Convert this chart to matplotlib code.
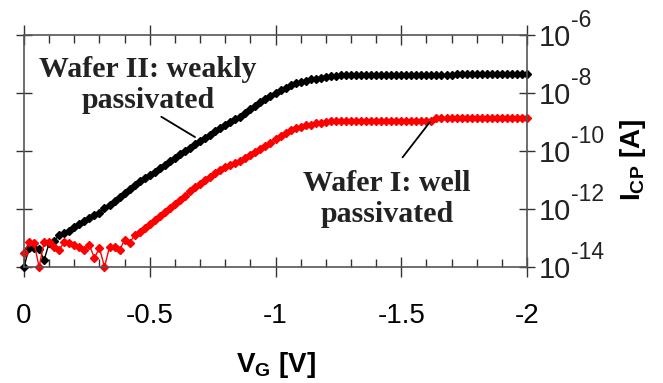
import matplotlib
matplotlib.use("Agg")
import matplotlib.pyplot as plt
import matplotlib.transforms as mtransforms
import numpy as np
from matplotlib.ticker import MultipleLocator, NullLocator

plt.rcParams['font.family'] = 'Liberation Sans'
plt.rcParams['mathtext.fontset'] = 'custom'
plt.rcParams['mathtext.rm'] = 'Liberation Sans'
plt.rcParams['mathtext.it'] = 'Liberation Sans'
plt.rcParams['mathtext.bf'] = 'Liberation Sans:bold'
plt.rcParams['axes.unicode_minus'] = False

# gate voltage sweep [V]
vg = [0.00, -0.02, -0.04, -0.06, -0.08, -0.10, -0.12, -0.14, -0.16, -0.18,
      -0.20, -0.22, -0.24, -0.26, -0.28, -0.30, -0.32, -0.34, -0.36, -0.38,
      -0.40, -0.42, -0.44, -0.46, -0.48, -0.50, -0.52, -0.54, -0.56, -0.58,
      -0.60, -0.62, -0.64, -0.66, -0.68, -0.70, -0.72, -0.74, -0.76, -0.78,
      -0.80, -0.82, -0.84, -0.86, -0.88, -0.90, -0.92, -0.94, -0.96, -0.98,
      -1.00, -1.02, -1.04, -1.06, -1.08, -1.10, -1.12, -1.14, -1.16, -1.18,
      -1.20, -1.22, -1.24, -1.26, -1.28, -1.30, -1.32, -1.34, -1.36, -1.38,
      -1.40, -1.42, -1.44, -1.46, -1.48, -1.50, -1.52, -1.54, -1.56, -1.58,
      -1.60, -1.62, -1.64, -1.66, -1.68, -1.70, -1.72, -1.74, -1.76, -1.78,
      -1.80, -1.82, -1.84, -1.86, -1.88, -1.90, -1.92, -1.94, -1.96, -1.98,
      -2.00]

# log10(Icp [A]) wafer II (weakly passivated)
wafer2_log = [-14.00, -13.35, -13.35, -13.38, -13.76, -13.17, -13.10, -12.90, -12.83, -12.76,
              -12.62, -12.52, -12.41, -12.31, -12.21, -12.14, -11.97, -11.86, -11.72, -11.59,
              -11.45, -11.31, -11.17, -11.03, -10.93, -10.83, -10.72, -10.59, -10.48, -10.35,
              -10.24, -10.10, -10.00, -9.90, -9.76, -9.66, -9.55, -9.45, -9.31, -9.21,
              -9.10, -9.00, -8.90, -8.82, -8.69, -8.55, -8.45, -8.31, -8.21, -8.10,
              -8.00, -7.91, -7.83, -7.74, -7.67, -7.62, -7.57, -7.53, -7.50, -7.47,
              -7.44, -7.41, -7.40, -7.38, -7.38, -7.38, -7.38, -7.38, -7.38, -7.38,
              -7.38, -7.38, -7.38, -7.38, -7.38, -7.38, -7.38, -7.38, -7.38, -7.38,
              -7.38, -7.38, -7.38, -7.38, -7.38, -7.38, -7.33, -7.33, -7.33, -7.33,
              -7.33, -7.33, -7.33, -7.33, -7.33, -7.33, -7.33, -7.33, -7.33, -7.33,
              -7.33]

# log10(Icp [A]) wafer I (well passivated)
wafer1_log = [-13.52, -13.14, -13.17, -14.00, -13.14, -13.14, -13.31, -13.41, -13.14, -13.17,
              -13.24, -13.31, -13.41, -13.24, -13.69, -13.34, -14.00, -13.31, -13.31, -13.41,
              -13.07, -13.17, -12.90, -12.79, -12.66, -12.52, -12.38, -12.24, -12.10, -11.97,
              -11.83, -11.69, -11.55, -11.38, -11.24, -11.14, -11.00, -10.90, -10.76, -10.66,
              -10.55, -10.48, -10.41, -10.33, -10.24, -10.14, -10.03, -9.93, -9.83, -9.71,
              -9.59, -9.48, -9.38, -9.29, -9.22, -9.17, -9.12, -9.09, -9.05, -9.02,
              -9.00, -8.98, -8.97, -8.95, -8.95, -8.95, -8.95, -8.95, -8.95, -8.95,
              -8.95, -8.95, -8.95, -8.95, -8.95, -8.95, -8.95, -8.95, -8.95, -8.95,
              -8.95, -8.95, -8.86, -8.86, -8.86, -8.86, -8.86, -8.86, -8.86, -8.86,
              -8.86, -8.86, -8.86, -8.86, -8.86, -8.86, -8.86, -8.86, -8.86, -8.86,
              -8.86]

x_ticks = [0, -0.5, -1, -1.5, -2]
x_ticklabels = ['0', '-0.5', '-1', '-1.5', '-2']
y_exponents = [-14, -12, -10, -8, -6]

fig = plt.figure(figsize=(6.63, 3.83), dpi=100)
ax = fig.add_axes([24/663, 1-267/383, (527-24)/663, (267-35)/383])

ax.plot(vg, 10**np.array(wafer2_log), color='black', marker='D', markersize=4,
        linewidth=1, clip_on=False)
ax.plot(vg, 10**np.array(wafer1_log), color='red', marker='D', markersize=4,
        linewidth=1, clip_on=False)

ax.set_yscale('log')
ax.set_xlim(0, -2)
ax.set_ylim(1e-14, 1e-6)

ax.set_xticks(x_ticks)
ax.set_xticklabels(x_ticklabels)
ax.xaxis.set_minor_locator(MultipleLocator(0.1))
ax.set_yticks([10.0**e for e in y_exponents])
ax.yaxis.set_minor_locator(NullLocator())

ax.tick_params(axis='x', which='major', direction='inout', length=14, width=1,
               top=True, bottom=True, labelsize=20, pad=19, color='#333333')
ax.tick_params(axis='x', which='minor', direction='in', length=6, width=1,
               top=True, bottom=True, color='#333333')
ax.tick_params(axis='y', which='major', direction='inout', length=12, width=1,
               left=True, right=True, labelleft=False, labelright=False,
               color='#333333')
for s in ax.spines.values():
    s.set_color('#555555')
    s.set_linewidth(1.2)

# right-hand tick labels: "10" with a raised exponent
ytrans = ax.get_yaxis_transform()
base_tr = mtransforms.offset_copy(ytrans, fig=fig, x=12, y=-10.5, units='dots')
exp_tr = mtransforms.offset_copy(ytrans, fig=fig, x=44, y=8, units='dots')
for e in y_exponents:
    ax.text(1, 10.0**e, '10', transform=base_tr, fontsize=21, color='#222222',
            ha='left', va='baseline', clip_on=False)
    ax.text(1, 10.0**e, str(e), transform=exp_tr, fontsize=16.5, color='#222222',
            ha='left', va='baseline', clip_on=False)

fig.text(276/663, 1-365/383, r'V$_\mathbf{G}$ [V]', fontsize=20, fontweight='bold',
         ha='center', va='center')
fig.text(633/663, 1-160/383, r'I$_\mathbf{CP}$ [A]', fontsize=20, fontweight='bold',
         ha='center', va='center', rotation=90)

ax.annotate('Wafer II: weakly\npassivated', xy=(-0.68, 10**-9.52),
            xytext=(-0.493, 10**-7.72), fontsize=21.5, fontweight='bold',
            family='Liberation Serif', color='#222222', ha='center', va='center',
            arrowprops=dict(arrowstyle='-', color='black', lw=1.3,
                            shrinkA=0, shrinkB=0, relpos=(0.54, 0)))
ax.annotate('Wafer I: well\npassivated', xy=(-1.614, 10**-9.0),
            xytext=(-1.443, 10**-11.66), fontsize=21.5, fontweight='bold',
            family='Liberation Serif', color='#222222', ha='center', va='center',
            arrowprops=dict(arrowstyle='-', color='black', lw=1.3,
                            shrinkA=9, shrinkB=0, relpos=(0.535, 1)))

fig.savefig('out.png', dpi=100)
